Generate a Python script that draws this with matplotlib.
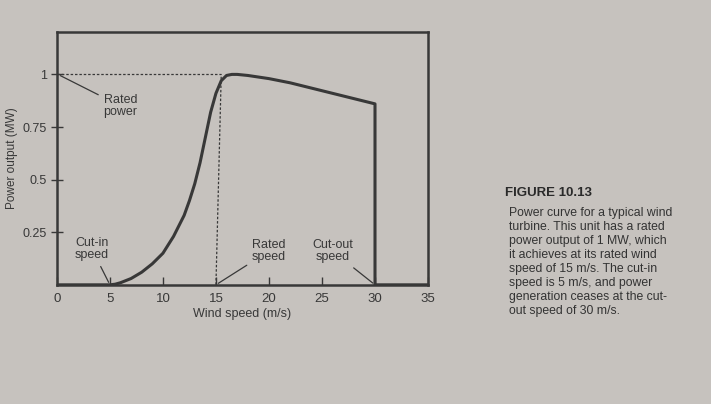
import matplotlib.pyplot as plt

plt.rcParams["font.family"] = ["Liberation Sans", "DejaVu Sans"]

# power curve (wind speed m/s, power MW)
wind = [0, 5, 5.5, 6, 7, 8, 9, 10, 11, 12, 12.5, 13, 13.5, 14, 14.5, 15, 15.5, 16, 16.5, 17, 18,
        20, 22, 24, 26, 28, 30, 30, 35]
power = [0, 0, 0.003, 0.01, 0.03, 0.06, 0.10, 0.15, 0.23, 0.33, 0.40, 0.48, 0.58, 0.70, 0.82, 0.91,
         0.97, 0.995, 1.0, 1.0, 0.995, 0.98, 0.96, 0.935, 0.91, 0.885, 0.86, 0, 0]

x_ticks = [0, 5, 10, 15, 20, 25, 30, 35]
y_ticks = [0.25, 0.5, 0.75, 1]
y_labels = ["0.25", "0.5", "0.75", "1"]

rated_power = 1.0
rated_speed = 15
cut_in = 5
cut_out = 30

caption_title = "FIGURE 10.13"
caption_lines = [
    "Power curve for a typical wind",
    "turbine. This unit has a rated",
    "power output of 1 MW, which",
    "it achieves at its rated wind",
    "speed of 15 m/s. The cut-in",
    "speed is 5 m/s, and power",
    "generation ceases at the cut-",
    "out speed of 30 m/s.",
]

ink = "#383838"
paper = "#c6c2be"

fig = plt.figure(figsize=(7.11, 4.04), dpi=100, facecolor=paper)
ax = fig.add_axes([0.08, 0.295, 0.522, 0.625], facecolor=paper)

ax.plot(wind, power, color=ink, lw=2.2, solid_joinstyle="round")
ax.plot([0, rated_speed + 0.5], [rated_power, rated_power], color=ink, lw=0.9, ls=(0, (2, 1.5)))
ax.plot([rated_speed, rated_speed + 0.5], [0, rated_power], color=ink, lw=0.9, ls=(0, (2, 1.5)))

ax.set_xlim(0, 35)
ax.set_ylim(0, 1.2)
ax.set_xticks(x_ticks)
ax.set_yticks(y_ticks)
ax.set_yticklabels(y_labels)
ax.tick_params(axis="x", direction="in", length=6, width=1, colors=ink, labelsize=9.5, pad=6)
ax.tick_params(axis="y", direction="inout", length=8, width=1, colors=ink, labelsize=9, pad=3)
for s in ax.spines.values():
    s.set_color(ink)
    s.set_linewidth(1.8)

ax.set_xlabel("Wind speed (m/s)", fontsize=9, color=ink, labelpad=2)
ax.set_ylabel("Power output (MW)", fontsize=8.5, color=ink)
ax.yaxis.set_label_coords(-0.105, 0.5)

line_kw = dict(arrowprops=dict(arrowstyle="-", color=ink, lw=0.9), fontsize=9, color=ink,
               ha="center", va="center", linespacing=1.05)
ax.annotate("Rated\npower", xy=(0.1, rated_power), xytext=(6.0, 0.85), **line_kw)
ax.annotate("Cut-in\nspeed", xy=(cut_in, 0), xytext=(3.3, 0.17), **line_kw)
ax.annotate("Rated\nspeed", xy=(rated_speed, 0), xytext=(20, 0.16), **line_kw)
ax.annotate("Cut-out\nspeed", xy=(cut_out, 0), xytext=(26, 0.16), **line_kw)

fig.text(0.71, 0.522, caption_title, fontsize=9.5, color="#2a2a2a", weight="bold", va="center")
fig.text(0.716, 0.488, "\n".join(caption_lines), fontsize=8.8, color="#333333",
         va="top", linespacing=1.22)

fig.savefig("out.png", dpi=100, facecolor=paper)
